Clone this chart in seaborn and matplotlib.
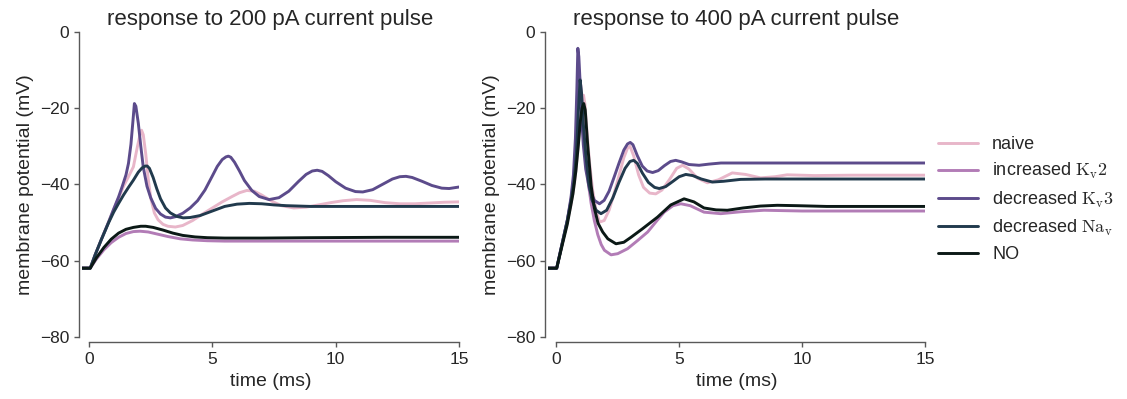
import pandas as pd
import matplotlib
matplotlib.use('Agg')
import matplotlib.pyplot as plt
import seaborn as sns

# Traces (time in ms, membrane potential in mV)

# --- 200 pA pulse ---
t200_naive = [-0.3, 0.05, 0.25, 0.5, 0.8, 1.0, 1.2, 1.4, 1.6, 1.8, 1.95, 2.05, 2.13, 2.2, 2.3, 2.4, 2.5,
              2.65, 2.8, 3.0, 3.2, 3.5, 3.8, 4.2, 4.6, 5.0, 5.4, 5.8, 6.1, 6.4, 6.7, 7.0, 7.4, 7.8,
              8.3, 8.8, 9.3, 9.8, 10.3, 10.85, 11.4, 12.0, 12.6, 13.2, 13.8, 14.4, 15.0]
v200_naive = [-62, -62, -58.5, -54.5, -49.8, -46.6, -43.6, -40.5, -38, -35.4, -30.5, -27.5, -25.8, -27,
              -32, -38.5, -43.5, -47.5, -49.3, -50.5, -51, -51.2, -50.8, -49.5, -47.8, -46.2, -44.6,
              -43.2, -42.2, -41.6, -41.8, -42.8, -44.4, -45.6, -46.2, -46, -45.4, -44.8, -44.3, -44,
              -44.2, -44.8, -45.1, -45.1, -44.9, -44.7, -44.6]

t200_kv2 = [-0.3, 0.05, 0.3, 0.6, 0.9, 1.2, 1.5, 1.8, 2.07, 2.4, 2.8, 3.2, 3.7, 4.2, 4.8, 5.5, 7.0, 10.0, 15.0]
v200_kv2 = [-62, -62, -59.6, -57.2, -55.3, -53.9, -52.9, -52.4, -52.3, -52.5, -53.1, -53.7, -54.3, -54.6,
            -54.8, -54.9, -54.9, -54.9, -54.9]

t200_kv3 = [-0.3, 0.05, 0.25, 0.5, 0.8, 1.0, 1.2, 1.35, 1.5, 1.6, 1.7, 1.78, 1.84, 1.9, 2.0, 2.1, 2.2,
            2.35, 2.5, 2.7, 2.9, 3.1, 3.3, 3.5, 3.8, 4.1, 4.4, 4.7, 5.0, 5.2, 5.4, 5.55, 5.65, 5.75,
            5.9, 6.1, 6.3, 6.6, 6.9, 7.3, 7.7, 8.1, 8.5, 8.8, 9.05, 9.25, 9.45, 9.7, 10.0, 10.4,
            10.8, 11.1, 11.5, 11.9, 12.3, 12.6, 12.85, 13.1, 13.5, 13.9, 14.3, 14.6, 15.0]
v200_kv3 = [-62, -62, -58.5, -54.5, -49.8, -46.5, -43.3, -40.5, -37.5, -34.5, -29.5, -23.5, -18.8,
            -19.5, -24, -30, -35.5, -40.5, -43.5, -46.3, -47.8, -48.6, -48.8, -48.5, -47.6, -46.2,
            -44.3, -41.5, -37.8, -35.3, -33.5, -32.8, -32.6, -32.9, -34.2, -36.5, -39, -41.6, -43.2,
            -44, -43.5, -41.8, -39.2, -37.4, -36.5, -36.3, -36.6, -37.7, -39.3, -41, -41.9, -42,
            -41.4, -40, -38.6, -38, -37.9, -38.2, -39.2, -40.3, -41, -41.1, -40.7]

t200_nav = [-0.3, 0.05, 0.25, 0.5, 0.8, 1.0, 1.2, 1.4, 1.6, 1.8, 2.0, 2.15, 2.28, 2.36, 2.45, 2.6, 2.75,
            2.9, 3.1, 3.3, 3.55, 3.82, 4.1, 4.5, 5.0, 5.5, 6.0, 6.5, 7.0, 7.5, 8.0, 9.0, 10.0, 12.0, 15.0]
v200_nav = [-62, -62, -58.5, -54.5, -50, -47.3, -45, -42.8, -40.8, -38.9, -36.8, -35.7, -35.2, -35.2,
            -35.8, -38.2, -41.2, -43.8, -46.2, -47.5, -48.4, -48.8, -48.7, -48.2, -47, -45.8, -45.2,
            -45.0, -45.1, -45.4, -45.6, -45.8, -45.8, -45.8, -45.8]

t200_no = [-0.3, 0.05, 0.3, 0.6, 0.9, 1.2, 1.5, 1.8, 2.1, 2.3, 2.6, 3.0, 3.4, 3.8, 4.3, 4.8, 5.5, 7.0,
           9.0, 12.0, 15.0]
v200_no = [-62, -62, -59.3, -56.6, -54.4, -52.8, -51.8, -51.3, -51.0, -51.0, -51.3, -52.0, -52.8, -53.4,
           -53.8, -54.0, -54.1, -54.1, -54.0, -53.9, -53.9]

# --- 400 pA pulse ---
t400_naive = [-0.35, 0.02, 0.25, 0.45, 0.6, 0.75, 0.88, 0.98, 1.05, 1.11, 1.17, 1.25, 1.35, 1.48, 1.62,
              1.76, 1.95, 2.15, 2.35, 2.55, 2.75, 2.9, 3.0, 3.15, 3.35, 3.55, 3.8, 4.05, 4.3, 4.6, 4.9,
              5.14, 5.4, 5.75, 6.15, 6.6, 7.16, 7.7, 8.31, 8.9, 9.39, 10.5, 12.0, 15.0]
v400_naive = [-62, -62, -55.5, -49.8, -45.5, -39.5, -31, -23, -18.5, -16.6, -19, -26, -34, -41.5, -46.8,
              -49.9, -49.5, -46.8, -42.5, -37.8, -33, -30.5, -30.0, -32.5, -37.5, -40.8, -42.3, -42.5,
              -41.5, -38.8, -35.8, -35.0, -36, -38.4, -39.6, -38.8, -37, -37.4, -38.3, -38.0, -37.5,
              -37.7, -37.6, -37.6]

t400_kv2 = [-0.35, 0.02, 0.25, 0.45, 0.6, 0.72, 0.82, 0.9, 0.95, 1.0, 1.08, 1.18, 1.3, 1.42, 1.55, 1.69,
            1.83, 1.96, 2.23, 2.5, 2.9, 3.3, 3.72, 4.1, 4.39, 4.75, 5.07, 5.45, 6.01, 6.69, 7.5, 8.45,
            10.0, 12.0, 15.0]
v400_kv2 = [-62, -62, -55.3, -49.5, -44, -38, -28, -16, -12, -14, -22, -32, -39.5, -45, -49.5, -53.2,
            -55.8, -57.3, -58.5, -58.2, -56.9, -54.8, -52.5, -49.5, -47.3, -45.6, -45.1, -45.6, -47.3,
            -47.7, -47.2, -46.8, -47.0, -47.0, -47.0]

t400_kv3 = [-0.35, 0.02, 0.25, 0.45, 0.6, 0.7, 0.78, 0.84, 0.88, 0.92, 0.97, 1.03, 1.1, 1.2, 1.35, 1.55,
            1.76, 1.95, 2.15, 2.35, 2.55, 2.75, 2.9, 3.01, 3.12, 3.3, 3.5, 3.7, 3.92, 4.15, 4.4, 4.65,
            4.86, 5.1, 5.4, 5.81, 6.2, 6.7, 7.5, 9.0, 12.0, 15.0]
v400_kv3 = [-62, -62, -55.3, -49.5, -43.5, -37.5, -28, -15, -4.3, -6.5, -13, -22, -29.5, -36, -41.2,
            -44.2, -45.1, -44.2, -41.8, -38.2, -34.5, -31, -29.4, -29.0, -29.6, -32.5, -35.2, -36.5,
            -36.9, -36.4, -35.1, -34, -33.7, -34.1, -34.8, -35.0, -34.7, -34.4, -34.4, -34.4, -34.4,
            -34.4]

t400_nav = [-0.35, 0.02, 0.25, 0.45, 0.6, 0.72, 0.82, 0.9, 0.97, 1.03, 1.1, 1.2, 1.32, 1.45, 1.62, 1.82,
            2.05, 2.3, 2.55, 2.8, 3.0, 3.15, 3.3, 3.5, 3.75, 4.0, 4.19, 4.45, 4.75, 5.0, 5.27, 5.55,
            5.9, 6.35, 6.8, 7.5, 8.5, 10.0, 15.0]
v400_nav = [-62, -62, -55.3, -49.5, -44.5, -39.5, -32, -21, -12.6, -16, -24, -32, -39.5, -44, -46.8,
            -47.7, -46.8, -43.6, -39.5, -35.8, -34, -33.7, -34.5, -37, -39.5, -40.8, -41.1, -40.6,
            -39.2, -38, -37.4, -37.7, -38.6, -39.4, -39.2, -38.7, -38.6, -38.6, -38.6]

t400_no = [-0.35, 0.02, 0.25, 0.45, 0.68, 0.8, 0.9, 0.98, 1.05, 1.12, 1.18, 1.28, 1.42, 1.55, 1.7, 1.89,
           2.1, 2.43, 2.75, 3.04, 3.5, 4.12, 4.66, 5.2, 5.6, 6.01, 6.5, 6.96, 7.6, 8.3, 8.99, 9.8,
           11.0, 13.0, 15.0]
v400_no = [-62, -62, -55.8, -50.5, -42.5, -36.5, -29.7, -23.5, -20, -18.8, -20.5, -29.7, -40.3, -46.2,
           -50.2, -52.5, -54.3, -55.6, -55.2, -53.9, -51.7, -48.6, -45.4, -43.8, -44.6, -46.2, -46.7,
           -46.8, -46.2, -45.7, -45.5, -45.6, -45.8, -45.8, -45.8]

conditions = ['naive', 'increased $\\mathrm{K}_\\mathrm{v}2$', 'decreased $\\mathrm{K}_\\mathrm{v}3$',
              'decreased $\\mathrm{Na}_\\mathrm{v}$', 'NO']
colors = ['#e8b6c9', '#b27cb6', '#5c4b8b', '#213a4d', '#0b1916']
titles = ['response to 200 pA current pulse', 'response to 400 pA current pulse']


def make_frame(traces):
    rows = []
    for cond, (t, v) in zip(conditions, traces):
        rows.append(pd.DataFrame({'time': t, 'V': v, 'condition': cond}))
    return pd.concat(rows, ignore_index=True)


data200 = make_frame([(t200_naive, v200_naive), (t200_kv2, v200_kv2), (t200_kv3, v200_kv3),
                      (t200_nav, v200_nav), (t200_no, v200_no)])
data400 = make_frame([(t400_naive, v400_naive), (t400_kv2, v400_kv2), (t400_kv3, v400_kv3),
                      (t400_nav, v400_nav), (t400_no, v400_no)])

sns.set_theme(style='ticks')
plt.rcParams['font.family'] = ['Liberation Sans', 'DejaVu Sans']
plt.rcParams['mathtext.fontset'] = 'cm'
plt.rcParams['text.color'] = '.15'
plt.rcParams['axes.labelcolor'] = '.15'

fig = plt.figure(figsize=(11.27, 3.99), dpi=100)
ax1 = fig.add_axes([0.0724, 0.156, 0.3349, 0.764])
ax2 = fig.add_axes([0.4859, 0.156, 0.3349, 0.764])

for ax, df, title, x0 in [(ax1, data200, titles[0], -0.3), (ax2, data400, titles[1], -0.35)]:
    sns.lineplot(data=df, x='time', y='V', hue='condition', hue_order=conditions,
                 palette=colors, estimator=None, linewidth=2.1, ax=ax, legend=True)
    ax.set_xlim(x0, 15)
    ax.set_ylim(-80, 0)
    ax.set_xticks([0, 5, 10, 15])
    ax.set_yticks([-80, -60, -40, -20, 0])
    ax.set_title(title, fontsize=16, pad=5)
    ax.set_xlabel('time (ms)', fontsize=14)
    ax.set_ylabel('membrane potential (mV)', fontsize=14)
    ax.tick_params(labelsize=12.5, length=3.5, width=1, color='.35')
    # seaborn-like trimmed and offset spines
    for side in ['top', 'right']:
        ax.spines[side].set_visible(False)
    ax.spines['left'].set_position(('outward', 2))
    ax.spines['bottom'].set_position(('outward', 4))
    ax.spines['left'].set_bounds(-80, 0)
    ax.spines['bottom'].set_bounds(0, 15)
    for side in ['left', 'bottom']:
        ax.spines[side].set_color('.35')
        ax.spines[side].set_linewidth(1)

handles, labels = ax2.get_legend_handles_labels()
ax1.get_legend().remove()
ax2.get_legend().remove()
fig.legend(handles, labels, loc='center left', bbox_to_anchor=(0.826, 0.5), frameon=False,
           fontsize=13, handlelength=2.2, labelspacing=0.45, borderaxespad=0)

plt.savefig('out.png', dpi=100)
plt.close()
